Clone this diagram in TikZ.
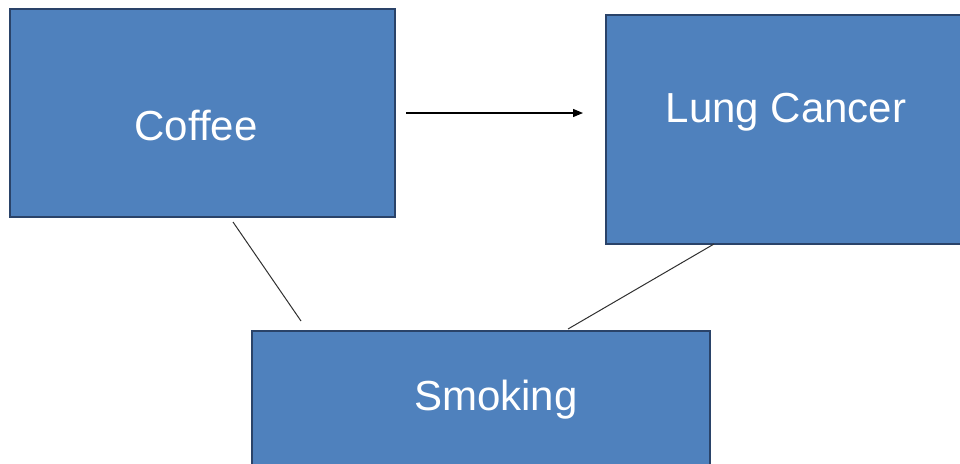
\documentclass[tikz,border=0pt]{standalone}
\usepackage{fontspec}
\setmainfont{Liberation Sans}
\usetikzlibrary{arrows.meta}
\definecolor{boxfill}{HTML}{4F81BD}
\definecolor{boxline}{HTML}{2A4369}
\definecolor{connline}{HTML}{303030}
\begin{document}
\begin{tikzpicture}[x=1pt,y=-1pt,
  box/.style={draw=boxline, line width=1.5pt, fill=boxfill, inner sep=0pt, rectangle},
  txt/.style={text=white, font=\fontsize{42}{50}\selectfont, anchor=base, inner sep=0pt},
  conn/.style={draw=connline, line width=1pt},
  arr/.style={draw=black, line width=1.2pt, -{Triangle[length=10pt,width=8pt]}}]
\useasboundingbox (0,0) rectangle (960,463);
\node[box, minimum width=385pt, minimum height=208pt] (coffee) at (202.5,113) {};
\node[box, minimum width=360pt, minimum height=229pt] (cancer) at (786,129.5) {};
\node[box, minimum width=458pt, minimum height=150pt] (smoking) at (481,406) {};
\node[txt] (tcoffee) at (196,140) {Coffee};
\node[txt] (tcancer) at (786,122) {Lung Cancer};
\node[txt] (tsmoking) at (496,410) {Smoking};
\coordinate (a1) at (406,113);
\coordinate (a2) at (583,113);
\coordinate (c1) at (233,222);
\coordinate (c2) at (301,321);
\coordinate (d1) at (714,244);
\coordinate (d2) at (568,329);
\draw[arr] (a1) -- (a2);
\draw[conn] (c1) -- (c2);
\draw[conn] (d1) -- (d2);
\end{tikzpicture}
\end{document}
